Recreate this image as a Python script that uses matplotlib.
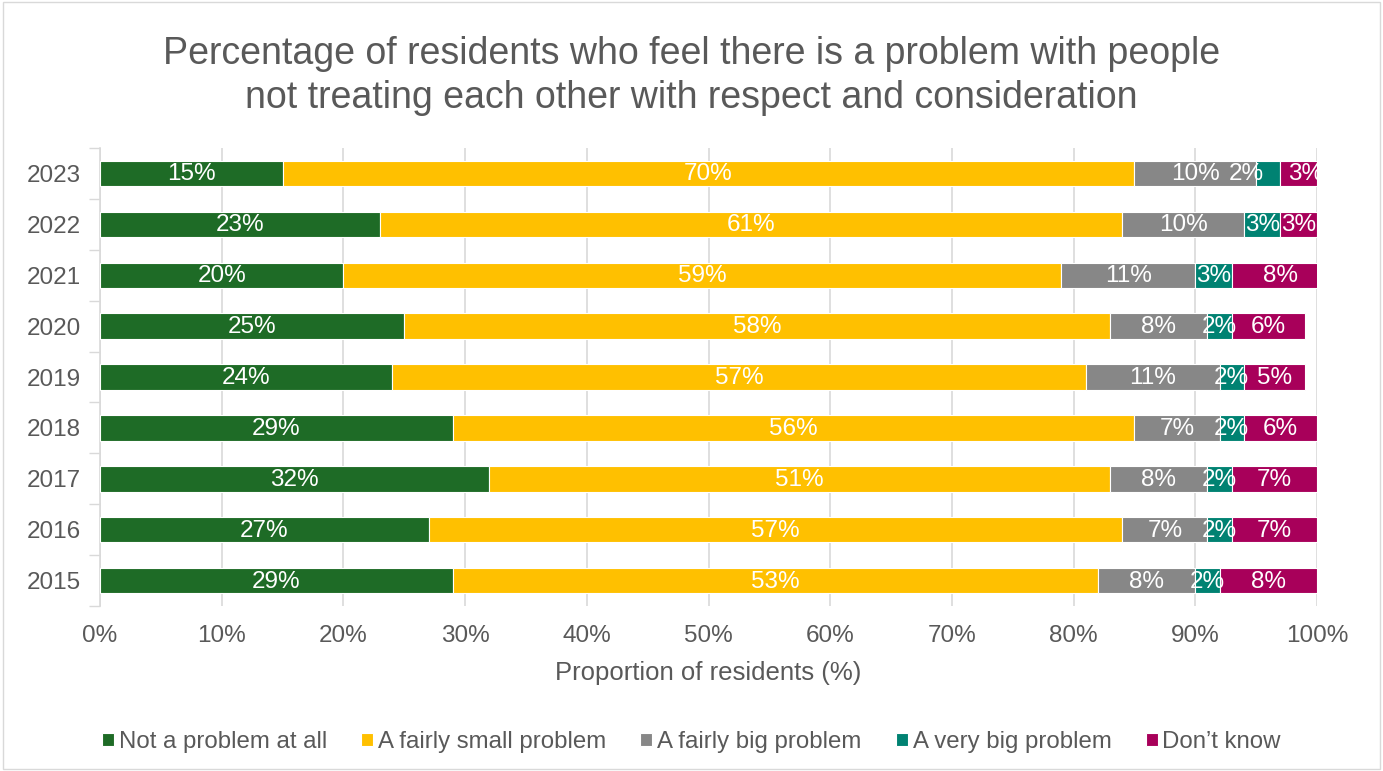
import numpy as np
import matplotlib.pyplot as plt
from matplotlib.patches import Rectangle

plt.rcParams['font.family'] = ['Liberation Sans', 'DejaVu Sans']

years = ['2023', '2022', '2021', '2020', '2019', '2018', '2017', '2016', '2015']
not_at_all = [15, 23, 20, 25, 24, 29, 32, 27, 29]
fairly_small = [70, 61, 59, 58, 57, 56, 51, 57, 53]
fairly_big = [10, 10, 11, 8, 11, 7, 8, 7, 8]
very_big = [2, 3, 3, 2, 2, 2, 2, 2, 2]
dont_know = [3, 3, 8, 6, 5, 6, 7, 7, 8]

series = [
    ('Not a problem at all', not_at_all, '#1E6B26'),
    ('A fairly small problem', fairly_small, '#FFC000'),
    ('A fairly big problem', fairly_big, '#878787'),
    ('A very big problem', very_big, '#008272'),
    ("Don\u2019t know", dont_know, '#A8005A'),
]

# manual label nudges (in % units) seen in the original, row 2023
nudge = {(3, 0): -1.8, (4, 0): 0.6}

txt = '#595959'
fig = plt.figure(figsize=(13.83, 7.71), dpi=100)
ax = fig.add_axes([100 / 1383, 1 - 606 / 771, 1217 / 1383, 458 / 771])

y = np.arange(len(years))
left = np.zeros(len(years))
for k, (name, vals, col) in enumerate(series):
    vals = np.array(vals, dtype=float)
    ax.barh(y, vals, left=left, height=0.5, color=col, edgecolor='white',
            linewidth=0.8, label=name, zorder=3)
    for i, v in enumerate(vals):
        cx = min(left[i] + v / 2, 100) + nudge.get((k, i), 0)
        ax.text(cx, y[i] + 0.02, f'{int(v)}%', ha='center', va='center', color='white',
                fontsize=17.5, zorder=4, clip_on=True)
    left += vals

ax.set_xlim(0, 100)
ax.set_ylim(len(years) - 0.5, -0.5)
ax.set_xticks(np.arange(0, 101, 10))
ax.set_xticklabels([f'{v}%' for v in range(0, 101, 10)])
ax.set_yticks(y)
ax.set_yticklabels(years)
ax.set_yticks(np.arange(-0.5, len(years)), minor=True)
ax.tick_params(axis='x', length=0, labelsize=17.5, colors=txt, pad=14)
ax.tick_params(axis='y', which='major', length=0, labelsize=17.5, colors=txt, pad=14)
ax.tick_params(axis='y', which='minor', length=8, color='#D9D9D9', width=1)
ax.grid(axis='x', color='#D9D9D9', linewidth=1.2, zorder=0)
for s in ['top', 'right', 'bottom']:
    ax.spines[s].set_visible(False)
ax.spines['left'].set_color('#D9D9D9')
ax.spines['left'].set_linewidth(1.2)
ax.set_xlabel('Proportion of residents (%)', fontsize=18.5, color=txt, labelpad=10)

fig.text(0.5, 1 - 76 / 771,
         'Percentage of residents who feel there is a problem with people\nnot treating each other with respect and consideration',
         ha='center', va='center', fontsize=27, color=txt, linespacing=1.3)

leg = fig.legend(loc='center', bbox_to_anchor=(0.5, 1 - 742 / 771), ncol=5, frameon=False,
                 fontsize=17.3, handlelength=0.5, handleheight=0.5, handletextpad=0.2,
                 columnspacing=1.42, labelcolor=txt)

fig.patches.append(Rectangle((0.002, 0.002), 0.996, 0.996, transform=fig.transFigure,
                             fill=False, edgecolor='#D9D9D9', linewidth=1))

fig.savefig('out.png', dpi=100)
